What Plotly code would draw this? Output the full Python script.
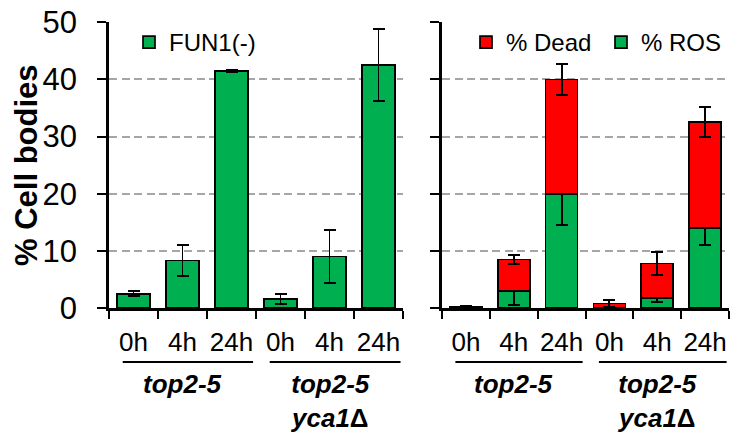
import plotly.graph_objects as go

# ---- data ----
time_labels = ["0h", "4h", "24h", "0h", "4h", "24h"]
strains = ["<i>top2-5</i>", "<i>top2-5</i><br><i>yca1</i>Δ"]
fun1 = [2.5, 8.3, 41.5, 1.6, 9.0, 42.5]
fun1_err = [0.45, 2.7, 0.2, 0.9, 4.6, 6.3]
ros = [0.1, 3.0, 20.0, 0.0, 1.8, 14.0]
ros_err = [0.1, 2.4, 5.4, 0.0, 0.75, 3.0]
dead = [0.1, 5.5, 20.0, 0.8, 6.0, 18.6]
dead_err = [0.1, 0.85, 2.7, 0.65, 2.0, 2.65]
y_ticks = [0, 10, 20, 30, 40, 50]
y_title = "% Cell bodies"

GREEN = "#00B050"
RED = "#FF0000"
FONT = "Arial, Liberation Sans, sans-serif"
W, H = 741, 434

xpos = list(range(len(time_labels)))
bounds = [i - 0.5 for i in range(len(time_labels) + 1)]

fig = go.Figure()
err_style = dict(type="data", color="black", thickness=1.9, width=6)
line_style = dict(color="black", width=1.7)

fig.add_trace(go.Bar(x=xpos, y=fun1, name="FUN1(-)", marker=dict(color=GREEN, line=line_style),
                     error_y=dict(array=fun1_err, **err_style), width=0.67, showlegend=True,
                     xaxis="x", yaxis="y", legend="legend"))
fig.add_trace(go.Bar(x=xpos, y=ros, name="% ROS", marker=dict(color=GREEN, line=line_style),
                     error_y=dict(array=ros_err, **err_style), width=0.67, showlegend=True,
                     xaxis="x2", yaxis="y2", legend="legend2"))
fig.add_trace(go.Bar(x=xpos, y=dead, name="% Dead", marker=dict(color=RED, line=line_style),
                     error_y=dict(array=dead_err, **err_style), width=0.67, showlegend=True,
                     xaxis="x2", yaxis="y2", legend="legend2"))

ydom = [(H - 308) / H, (H - 22.3) / H]
xdom1 = [109 / W, 403 / W]
xdom2 = [442 / W, 729 / W]

xcommon = dict(range=[-0.5, 5.5], tickmode="array", tickvals=xpos, ticktext=time_labels,
               ticks="", showline=True, linecolor="black", linewidth=2.5, automargin=False,
               tickfont=dict(family=FONT, size=26, color="black"),
               ticklabelstandoff=9, showgrid=False, zeroline=False,
               minor=dict(tickmode="array", tickvals=bounds, ticks="outside", ticklen=8,
                          tickwidth=2, tickcolor="black", showgrid=False))
ycommon = dict(range=[0, 50], tickvals=y_ticks, ticks="outside", ticklen=9, tickwidth=2,
               tickcolor="black", showline=True, linecolor="black", linewidth=2.5,
               showgrid=True, gridcolor="#A6A6A6", gridwidth=1.6, griddash="8px,4.5px",
               zeroline=False, domain=ydom, automargin=False)

fig.update_layout(
    template="none",
    width=W, height=H, margin=dict(l=0, r=0, t=0, b=0, autoexpand=False),
    paper_bgcolor="white", plot_bgcolor="white", showlegend=True,
    barmode="stack", font=dict(family=FONT, color="black"),
    xaxis=dict(domain=xdom1, anchor="y", **xcommon),
    yaxis=dict(anchor="x", tickfont=dict(family=FONT, size=31, color="black"),
               ticklabelstandoff=14, **ycommon),
    xaxis2=dict(domain=xdom2, anchor="y2", **xcommon),
    yaxis2=dict(anchor="x2", showticklabels=False, **ycommon),
    legend=dict(x=129 / W, y=(H - 20) / H, xanchor="left", yanchor="top",
                font=dict(family=FONT, size=24, color="black"), bgcolor="rgba(0,0,0,0)"),
    legend2=dict(x=466 / W, y=(H - 20) / H, xanchor="left", yanchor="top", orientation="h",
                 traceorder="reversed", entrywidth=90, entrywidthmode="pixels",
                 font=dict(family=FONT, size=24, color="black"), bgcolor="rgba(0,0,0,0)"),
)

# y-axis title
fig.add_annotation(xref="paper", yref="paper", x=27 / W, y=(H - 165) / H,
                   xanchor="center", yanchor="middle", textangle=-90, showarrow=False,
                   text="<b>" + y_title + "</b>", font=dict(family=FONT, size=31, color="black"))

# group underlines and labels
groups = [(-0.22, 2.44, 1), (2.78, 5.45, 4)]
uy = (H - 362) / H
for xa in ["x", "x2"]:
    for (g0, g1, gc), lab in zip(groups, strains):
        fig.add_shape(type="line", xref=xa, yref="paper", x0=g0, x1=g1, y0=uy, y1=uy,
                      line=dict(color="black", width=2))
        fig.add_annotation(xref=xa, yref="paper", x=gc, y=uy - 5 / H, yanchor="top",
                           text="<b>" + lab + "</b>", showarrow=False,
                           font=dict(family=FONT, size=26, color="black"))

fig.write_html("out.html", config={"displayModeBar": False},
               post_script="document.body.style.margin='0';document.body.style.overflow='hidden';")
